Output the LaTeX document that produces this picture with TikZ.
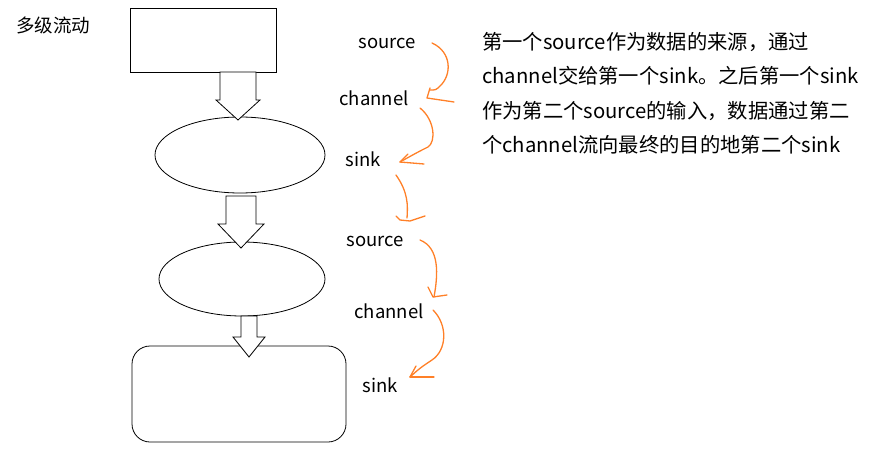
\documentclass[tikz,border=0pt]{standalone}
\usepackage{fontspec}
\setmainfont{Noto Sans CJK SC}
\usetikzlibrary{shapes.geometric}
\begin{document}
\begin{tikzpicture}[x=1pt,y=-1pt,
  box/.style={draw,thick},
  lbl/.style={font=\fontsize{18.5}{20}\selectfont,inner sep=0},
  bar/.style={draw,thick,fill=white},
  og/.style={draw={rgb,255:red,255;green,128;blue,40},line width=1.3pt,line cap=round,line join=round}]
\useasboundingbox (0,0) rectangle (875,465);
\node[lbl,anchor=west] (t) at (16,25) {多级流动};
\node[box,draw,minimum width=146pt,minimum height=64pt,inner sep=0] (r1) at (203,40) {};
\node[box,draw,ellipse,minimum width=170pt,minimum height=76pt,inner sep=0] (e1) at (240,155) {};
\node[box,draw,ellipse,minimum width=166pt,minimum height=74pt,inner sep=0] (e2) at (242,279) {};
\node[box,draw,rounded corners=18pt,minimum width=214pt,minimum height=96pt,inner sep=0] (r2) at (239,394) {};
% block arrows
\draw[bar] (220,72) -- (220,100) -- (216,100) -- (238,120) -- (260,100) -- (256,100) -- (256,72) -- cycle;
\draw[bar] (226,196) -- (226,224) -- (218,224) -- (241,248) -- (264,224) -- (256,224) -- (256,196) -- cycle;
\draw[bar] (241,316) -- (241,337) -- (233,337) -- (249,357) -- (265,337) -- (257,337) -- (257,316) -- cycle;
\node[lbl] (s1) at (387,43) {source};
\node[lbl] (c1) at (374,98) {channel};
\node[lbl] (k1) at (363,159) {sink};
\node[lbl] (s2) at (375,241) {source};
\node[lbl] (c2) at (389,311) {channel};
\node[lbl] (k2) at (380,385) {sink};
\coordinate (a1) at (432,43); \coordinate (b1) at (428,98);
\draw[og] (a1) .. controls (452,52) and (452,75) .. (440,86) .. controls (436,90) .. (430,90);
\draw[og] (430,88) -- (427,98) -- (454,102);
\coordinate (a2) at (420,108); \coordinate (b2) at (400,162);
\draw[og] (a2) .. controls (435,120) and (436,142) .. (428,147) .. controls (418,152) .. (b2);
\draw[og] (b2) -- (408,154); \draw[og] (b2) -- (424,164);
\coordinate (a3) at (396,175); \coordinate (b3) at (407,218);
\draw[og] (a3) .. controls (408,192) and (408,205) .. (b3);
\draw[og] (396,216) -- (400,220) -- (410,221) -- (425,216);
\coordinate (a4) at (420,240); \coordinate (b4) at (434,297);
\draw[og] (a4) .. controls (440,248) and (438,275) .. (b4);
\draw[og] (428,287) -- (433,297) -- (447,295);
\coordinate (a5) at (433,310); \coordinate (b5) at (410,377);
\draw[og] (a5) .. controls (448,325) and (447,350) .. (432,360) .. controls (420,368) .. (b5);
\draw[og] (b5) -- (416,366); \draw[og] (b5) -- (434,377);
\node[lbl,anchor=north west,align=left,text width=400pt,font=\fontsize{20.3}{34.5}\selectfont] (d) at (482,32)
{第一个source作为数据的来源，通过\\channel交给第一个sink。之后第一个sink\\作为第二个source的输入，数据通过第二\\个channel流向最终的目的地第二个sink};
\end{tikzpicture}
\end{document}
